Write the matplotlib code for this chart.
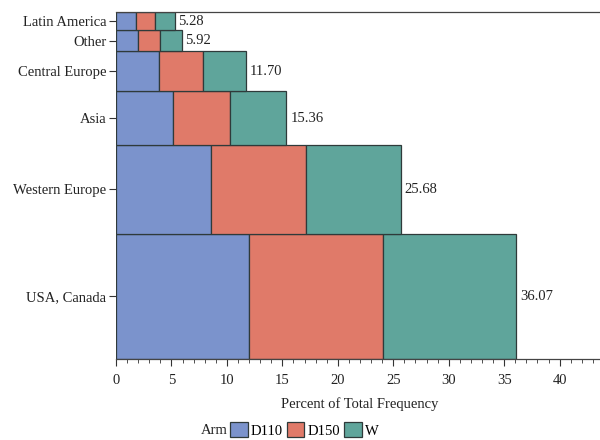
import matplotlib
matplotlib.use("Agg")
import matplotlib.pyplot as plt
from matplotlib.patches import Patch
from matplotlib.ticker import MultipleLocator

plt.rcParams['font.family'] = ['Liberation Serif', 'DejaVu Serif']

# --- DATA (percent of total frequency, bottom band first) ---
regions = ["USA, Canada", "Western Europe", "Asia", "Central Europe", "Other", "Latin America"]
d110 = [12.00, 8.55, 5.10, 3.90, 1.96, 1.80]
d150 = [12.05, 8.55, 5.16, 3.90, 2.00, 1.74]
w_arm = [12.02, 8.58, 5.10, 3.90, 1.96, 1.74]
arm_names = ["D110", "D150", "W"]
arm_colors = ["#7b93cc", "#e07a69", "#5fa59b"]

totals = [a + b + c for a, b, c in zip(d110, d150, w_arm)]

FS = 10.5
TXT = '#222222'

fig = plt.figure(figsize=(6, 4.4), dpi=100)
ax = fig.add_axes([116 / 600, 81 / 440, 488 / 600, 347 / 440])

# each band is as tall as its share of the total
bottom = 0.0
centers = []
for i, region in enumerate(regions):
    h = totals[i]
    left = 0.0
    for vals, col in zip([d110, d150, w_arm], arm_colors):
        ax.barh(bottom, vals[i], height=h, left=left, align='edge',
                color=col, edgecolor='#2f3a3a', linewidth=0.9)
        left += vals[i]
    ax.text(totals[i] + 0.35, bottom + h / 2, f"{totals[i]:.2f}",
            va='center', ha='left', fontsize=FS, color=TXT)
    centers.append(bottom + h / 2)
    bottom += h

ax.set_xlim(0, 44)
ax.set_ylim(0, bottom)
ax.set_yticks(centers)
ax.set_yticklabels(regions, fontsize=FS)
ax.xaxis.set_major_locator(MultipleLocator(5))
ax.xaxis.set_minor_locator(MultipleLocator(1))
ax.tick_params(axis='x', which='major', length=5, pad=6, labelsize=FS, colors='#333333', labelcolor=TXT)
ax.tick_params(axis='x', which='minor', length=3, colors='#333333')
ax.tick_params(axis='y', length=5, pad=2, colors='#333333', labelcolor=TXT)
ax.set_xlabel("Percent of Total Frequency", fontsize=FS, color=TXT, labelpad=7)

for side in ['right', 'left']:
    ax.spines[side].set_visible(False)
for side in ['top', 'bottom']:
    ax.spines[side].set_color('#444444')
    ax.spines[side].set_linewidth(0.9)

# legend row: "Arm" followed by the three swatches
handles = [Patch(facecolor=c, edgecolor='#2f3a3a', linewidth=0.9, label=n)
           for n, c in zip(arm_names, arm_colors)]
fig.legend(handles=handles, loc='center left', bbox_to_anchor=(230 / 600, 1 - 430 / 440),
           ncol=3, frameon=False, fontsize=FS, borderaxespad=0, borderpad=0,
           handlelength=1.2, handleheight=1.2, handletextpad=0.2, columnspacing=0.3)
fig.text(228 / 600, 1 - 430 / 440, "Arm", ha='right', va='center', fontsize=FS, color=TXT)

fig.savefig("out.png", dpi=100)
